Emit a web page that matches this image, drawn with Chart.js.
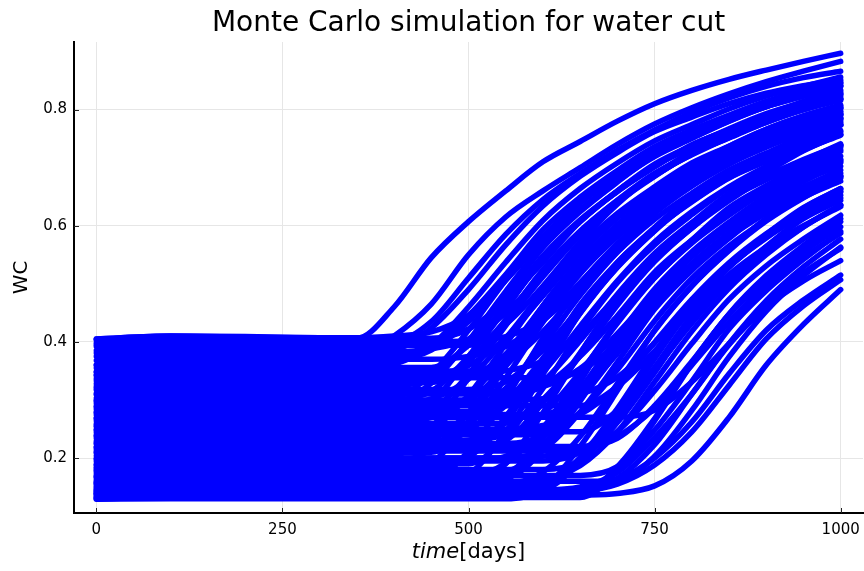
<!DOCTYPE html>
<html>
<head>
<meta charset="utf-8">
<script src="https://cdn.jsdelivr.net/npm/chart.js@4.4.1/dist/chart.umd.min.js"></script>
<style>
  html, body { margin: 0; padding: 0; background: #ffffff; }
  canvas { display: block; }
</style>
</head>
<body>
<canvas id="wc" width="864" height="571"></canvas>
<script>
// Sampling times (days) shared by every realisation
const days = [0, 100, 200, 300, 350, 400, 450, 500, 550, 600, 650, 700, 750, 800, 850, 900, 950, 1000];
const dayTicks = [0, 250, 500, 750, 1000];
const wcTicks = [0.2, 0.4, 0.6, 0.8];

// Water-cut realisations of the Monte Carlo run
const run01 = [0.405,0.41,0.408,0.406,0.406,0.46,0.545,0.607,0.66,0.71,0.745,0.78,0.81,0.833,0.852,0.868,0.883,0.897];
const run02 = [0.36,0.365,0.365,0.366,0.375,0.41,0.465,0.55,0.615,0.66,0.70,0.74,0.775,0.803,0.827,0.848,0.866,0.883];
const run03 = [0.395,0.40,0.399,0.398,0.398,0.40,0.435,0.51,0.585,0.645,0.69,0.73,0.765,0.795,0.82,0.84,0.855,0.866];
const run04 = [0.385,0.388,0.388,0.388,0.388,0.388,0.424,0.49,0.567,0.634,0.685,0.726,0.762,0.787,0.81,0.828,0.841,0.852];
const run05 = [0.375,0.378,0.377,0.377,0.377,0.377,0.391,0.445,0.516,0.593,0.649,0.695,0.736,0.765,0.79,0.813,0.831,0.846];
const run06 = [0.405,0.41,0.409,0.407,0.406,0.406,0.406,0.422,0.471,0.537,0.607,0.659,0.701,0.739,0.765,0.788,0.81,0.826];
const run07 = [0.355,0.357,0.357,0.356,0.356,0.356,0.356,0.394,0.462,0.54,0.608,0.66,0.702,0.739,0.765,0.791,0.812,0.828];
const run08 = [0.342,0.343,0.343,0.343,0.343,0.343,0.343,0.343,0.379,0.446,0.524,0.591,0.643,0.684,0.72,0.746,0.772,0.793];
const run09 = [0.328,0.33,0.33,0.33,0.33,0.33,0.33,0.368,0.438,0.519,0.589,0.643,0.686,0.724,0.751,0.778,0.8,0.816];
const run10 = [0.317,0.318,0.318,0.318,0.318,0.318,0.318,0.318,0.331,0.386,0.459,0.537,0.595,0.642,0.683,0.712,0.738,0.762];
const run11 = [0.303,0.305,0.305,0.305,0.305,0.305,0.345,0.42,0.506,0.581,0.639,0.685,0.725,0.754,0.782,0.805,0.823,0.84];
const run12 = [0.294,0.295,0.295,0.295,0.295,0.295,0.295,0.295,0.295,0.332,0.402,0.482,0.552,0.605,0.648,0.686,0.712,0.739];
const run13 = [0.284,0.285,0.285,0.285,0.285,0.285,0.285,0.299,0.358,0.438,0.522,0.584,0.635,0.681,0.712,0.74,0.765,0.785];
const run14 = [0.274,0.275,0.275,0.275,0.275,0.275,0.275,0.275,0.275,0.275,0.312,0.38,0.459,0.527,0.58,0.622,0.658,0.685];
const run15 = [0.264,0.265,0.265,0.265,0.265,0.265,0.28,0.344,0.428,0.519,0.586,0.64,0.689,0.722,0.752,0.779,0.8,0.819];
const run16 = [0.254,0.255,0.255,0.255,0.255,0.255,0.255,0.255,0.296,0.372,0.46,0.536,0.594,0.641,0.682,0.711,0.741,0.764];
const run17 = [0.244,0.245,0.245,0.245,0.245,0.245,0.245,0.245,0.245,0.245,0.245,0.282,0.352,0.432,0.502,0.555,0.598,0.636];
const run18 = [0.234,0.235,0.235,0.235,0.235,0.235,0.235,0.279,0.36,0.454,0.535,0.598,0.648,0.691,0.723,0.754,0.779,0.798];
const run19 = [0.224,0.225,0.225,0.225,0.225,0.225,0.225,0.225,0.225,0.24,0.301,0.383,0.471,0.535,0.588,0.635,0.667,0.696];
const run20 = [0.214,0.215,0.215,0.215,0.215,0.215,0.215,0.215,0.23,0.295,0.381,0.473,0.541,0.596,0.646,0.679,0.71,0.738];
const run21 = [0.204,0.205,0.205,0.205,0.205,0.205,0.252,0.338,0.438,0.524,0.591,0.644,0.69,0.724,0.757,0.784,0.804,0.823];
const run22 = [0.194,0.195,0.195,0.195,0.195,0.195,0.195,0.195,0.195,0.195,0.21,0.272,0.356,0.445,0.51,0.564,0.612,0.644];
const run23 = [0.184,0.185,0.185,0.185,0.185,0.185,0.185,0.202,0.271,0.365,0.464,0.537,0.597,0.651,0.687,0.72,0.75,0.774];
const run24 = [0.177,0.178,0.178,0.178,0.178,0.178,0.178,0.178,0.178,0.223,0.306,0.403,0.486,0.55,0.602,0.647,0.679,0.711];
const run25 = [0.169,0.17,0.17,0.17,0.17,0.17,0.17,0.17,0.17,0.17,0.17,0.185,0.248,0.332,0.422,0.488,0.542,0.59];
const run26 = [0.162,0.163,0.163,0.163,0.163,0.163,0.163,0.212,0.302,0.407,0.498,0.567,0.623,0.672,0.707,0.742,0.769,0.79];
const run27 = [0.155,0.156,0.156,0.156,0.156,0.156,0.156,0.156,0.156,0.156,0.201,0.285,0.381,0.465,0.53,0.581,0.626,0.658];
const run28 = [0.149,0.15,0.15,0.15,0.15,0.15,0.15,0.15,0.167,0.238,0.334,0.436,0.51,0.572,0.626,0.663,0.697,0.728];
const run29 = [0.144,0.145,0.145,0.145,0.145,0.145,0.145,0.145,0.145,0.145,0.15,0.175,0.235,0.31,0.395,0.46,0.505,0.54];
const run30 = [0.139,0.14,0.14,0.14,0.14,0.14,0.14,0.14,0.14,0.14,0.14,0.185,0.268,0.364,0.447,0.511,0.562,0.607];
const run31 = [0.137,0.138,0.138,0.138,0.138,0.138,0.138,0.138,0.138,0.139,0.142,0.155,0.188,0.245,0.325,0.405,0.462,0.507];
const run32 = [0.14,0.141,0.141,0.141,0.141,0.141,0.141,0.141,0.141,0.142,0.146,0.162,0.2,0.262,0.345,0.42,0.472,0.515];
const run33 = [0.133,0.135,0.135,0.135,0.135,0.135,0.135,0.135,0.135,0.135,0.136,0.139,0.152,0.195,0.27,0.36,0.43,0.49];
const run34 = [0.309,0.31,0.31,0.31,0.31,0.31,0.31,0.31,0.31,0.323,0.375,0.445,0.52,0.575,0.62,0.66,0.688,0.713];
const run35 = [0.299,0.3,0.3,0.3,0.3,0.3,0.315,0.375,0.457,0.544,0.607,0.66,0.706,0.738,0.767,0.793,0.813,0.831];
const run36 = [0.289,0.29,0.29,0.29,0.29,0.29,0.29,0.29,0.29,0.29,0.29,0.323,0.384,0.455,0.516,0.563,0.6,0.633];
const run37 = [0.279,0.28,0.28,0.28,0.28,0.28,0.28,0.28,0.32,0.394,0.48,0.554,0.611,0.656,0.696,0.725,0.753,0.776];
const run38 = [0.269,0.27,0.27,0.27,0.27,0.27,0.27,0.27,0.27,0.27,0.27,0.27,0.282,0.331,0.397,0.467,0.519,0.561];
const run39 = [0.259,0.26,0.26,0.26,0.26,0.26,0.26,0.26,0.26,0.301,0.376,0.463,0.538,0.596,0.643,0.683,0.712,0.741];
const run40 = [0.249,0.25,0.25,0.25,0.25,0.25,0.293,0.374,0.467,0.548,0.61,0.659,0.703,0.734,0.765,0.789,0.808,0.827];
const run41 = [0.239,0.24,0.24,0.24,0.24,0.24,0.24,0.24,0.24,0.24,0.279,0.352,0.436,0.509,0.565,0.61,0.649,0.677];
const run42 = [0.229,0.23,0.23,0.23,0.23,0.23,0.23,0.246,0.313,0.403,0.499,0.569,0.627,0.678,0.713,0.745,0.774,0.796];
const run43 = [0.219,0.22,0.22,0.22,0.22,0.22,0.22,0.22,0.22,0.22,0.22,0.234,0.29,0.366,0.447,0.506,0.555,0.598];
const run44 = [0.209,0.21,0.21,0.21,0.21,0.21,0.21,0.255,0.338,0.434,0.517,0.581,0.632,0.677,0.709,0.741,0.767,0.786];
const run45 = [0.199,0.2,0.2,0.2,0.2,0.2,0.2,0.2,0.2,0.215,0.279,0.365,0.456,0.523,0.578,0.627,0.661,0.691];
const run46 = [0.189,0.19,0.19,0.19,0.19,0.19,0.19,0.19,0.236,0.32,0.418,0.502,0.567,0.619,0.665,0.697,0.73,0.756];
const run47 = [0.179,0.18,0.18,0.18,0.18,0.18,0.18,0.18,0.18,0.18,0.196,0.261,0.347,0.44,0.509,0.564,0.614,0.648];
const run48 = [0.173,0.174,0.174,0.174,0.174,0.174,0.191,0.263,0.359,0.462,0.538,0.599,0.654,0.692,0.726,0.757,0.781,0.802];
const run49 = [0.166,0.167,0.167,0.167,0.167,0.167,0.167,0.167,0.167,0.213,0.298,0.396,0.48,0.546,0.598,0.644,0.676,0.709];
const run50 = [0.159,0.16,0.16,0.16,0.16,0.16,0.16,0.16,0.16,0.16,0.16,0.16,0.203,0.282,0.374,0.453,0.514,0.563];
const run51 = [0.152,0.153,0.153,0.153,0.153,0.153,0.153,0.171,0.245,0.344,0.45,0.528,0.591,0.648,0.687,0.722,0.754,0.779];
const run52 = [0.147,0.148,0.148,0.148,0.148,0.148,0.148,0.148,0.148,0.148,0.194,0.28,0.38,0.466,0.532,0.585,0.631,0.664];
const run53 = [0.142,0.143,0.143,0.143,0.143,0.143,0.143,0.143,0.16,0.234,0.331,0.436,0.512,0.575,0.631,0.669,0.704,0.735];
const run54 = [0.131,0.132,0.132,0.132,0.132,0.132,0.132,0.132,0.132,0.132,0.132,0.178,0.264,0.362,0.448,0.514,0.566,0.612];
const run55 = [0.129,0.13,0.13,0.13,0.13,0.13,0.13,0.13,0.13,0.147,0.22,0.316,0.42,0.496,0.558,0.613,0.651,0.685];
const run56 = [0.392,0.395,0.395,0.394,0.394,0.394,0.394,0.394,0.43,0.496,0.572,0.637,0.688,0.728,0.764,0.789,0.814,0.834];
const run57 = [0.348,0.35,0.35,0.35,0.35,0.35,0.35,0.35,0.363,0.418,0.49,0.568,0.626,0.672,0.714,0.743,0.769,0.792];
const run58 = [0.323,0.325,0.325,0.325,0.325,0.325,0.339,0.398,0.478,0.562,0.624,0.675,0.721,0.752,0.78,0.805,0.825,0.842];
const run59 = [0.337,0.338,0.338,0.338,0.338,0.338,0.338,0.338,0.338,0.338,0.35,0.398,0.463,0.532,0.583,0.624,0.661,0.687];
const run60 = [0.398,0.40,0.40,0.40,0.40,0.40,0.40,0.402,0.409,0.438,0.494,0.56,0.621,0.668,0.706,0.738,0.762,0.785];
const run61 = [0.381,0.383,0.383,0.383,0.383,0.383,0.388,0.405,0.45,0.517,0.584,0.641,0.686,0.723,0.753,0.778,0.8,0.818];
const run62 = [0.368,0.37,0.37,0.37,0.37,0.37,0.37,0.375,0.392,0.436,0.502,0.568,0.625,0.669,0.706,0.735,0.76,0.782];
const run63 = [0.36,0.362,0.362,0.362,0.362,0.367,0.386,0.435,0.507,0.58,0.642,0.69,0.731,0.763,0.79,0.814,0.833,0.849];
const run64 = [0.333,0.335,0.335,0.335,0.335,0.335,0.34,0.359,0.407,0.479,0.552,0.613,0.661,0.701,0.734,0.76,0.784,0.803];
const run65 = [0.311,0.313,0.313,0.313,0.313,0.313,0.313,0.313,0.316,0.323,0.354,0.414,0.485,0.551,0.602,0.643,0.678,0.703];
const run66 = [0.288,0.29,0.29,0.29,0.29,0.293,0.302,0.336,0.406,0.487,0.563,0.621,0.667,0.708,0.737,0.766,0.789,0.806];
const run67 = [0.268,0.27,0.27,0.27,0.27,0.27,0.27,0.276,0.296,0.348,0.427,0.505,0.572,0.624,0.667,0.702,0.731,0.757];
const run68 = [0.248,0.25,0.25,0.25,0.25,0.25,0.25,0.25,0.25,0.256,0.275,0.324,0.399,0.473,0.536,0.586,0.627,0.66];
const run69 = [0.238,0.24,0.24,0.24,0.24,0.24,0.243,0.252,0.29,0.364,0.451,0.531,0.593,0.643,0.686,0.717,0.748,0.773];
const run70 = [0.218,0.22,0.22,0.22,0.22,0.227,0.249,0.308,0.396,0.483,0.558,0.617,0.665,0.704,0.737,0.766,0.789,0.808];
const run71 = [0.198,0.2,0.2,0.2,0.2,0.2,0.2,0.2,0.2,0.203,0.212,0.246,0.316,0.397,0.473,0.531,0.577,0.618];
const run72 = [0.188,0.19,0.19,0.19,0.19,0.19,0.19,0.193,0.203,0.241,0.318,0.408,0.491,0.555,0.606,0.651,0.683,0.715];
const run73 = [0.168,0.17,0.17,0.17,0.17,0.17,0.177,0.201,0.263,0.356,0.449,0.529,0.591,0.643,0.684,0.719,0.75,0.774];
const run74 = [0.156,0.158,0.158,0.158,0.158,0.158,0.158,0.158,0.158,0.164,0.187,0.245,0.331,0.418,0.492,0.55,0.598,0.636];
const run75 = [0.144,0.146,0.146,0.146,0.146,0.146,0.146,0.146,0.153,0.176,0.237,0.328,0.419,0.496,0.557,0.608,0.648,0.682];
const run76 = [0.134,0.136,0.136,0.136,0.136,0.136,0.136,0.136,0.136,0.136,0.142,0.165,0.223,0.31,0.397,0.471,0.529,0.577];
const run77 = [0.13,0.132,0.132,0.132,0.132,0.132,0.136,0.147,0.19,0.278,0.38,0.474,0.547,0.605,0.656,0.692,0.729,0.758];
const run78 = [0.343,0.345,0.345,0.345,0.345,0.345,0.345,0.345,0.35,0.367,0.412,0.479,0.545,0.602,0.647,0.684,0.714,0.739];
const run79 = [0.278,0.28,0.28,0.28,0.283,0.292,0.329,0.402,0.487,0.567,0.628,0.677,0.719,0.75,0.78,0.805,0.823,0.841];
const run80 = [0.32,0.322,0.322,0.322,0.322,0.325,0.333,0.367,0.434,0.512,0.584,0.64,0.685,0.724,0.752,0.78,0.802,0.819];
const run81 = [0.21,0.212,0.212,0.212,0.212,0.212,0.212,0.212,0.212,0.212,0.217,0.237,0.286,0.36,0.434,0.497,0.546,0.587];
const run82 = [0.182,0.184,0.184,0.184,0.184,0.191,0.215,0.277,0.369,0.462,0.541,0.602,0.654,0.695,0.729,0.76,0.784,0.804];
const run83 = [0.158,0.16,0.16,0.16,0.16,0.16,0.16,0.167,0.191,0.252,0.344,0.435,0.514,0.575,0.626,0.667,0.701,0.731];
const run84 = [0.138,0.14,0.14,0.14,0.14,0.14,0.14,0.14,0.143,0.154,0.194,0.276,0.371,0.46,0.528,0.582,0.63,0.664];
const run85 = [0.298,0.3,0.3,0.3,0.3,0.3,0.3,0.3,0.3,0.302,0.31,0.339,0.398,0.467,0.53,0.579,0.619,0.653];
const run86 = [0.256,0.258,0.258,0.258,0.258,0.261,0.27,0.306,0.378,0.462,0.54,0.6,0.648,0.69,0.72,0.75,0.774,0.792];
const run87 = [0.226,0.228,0.228,0.228,0.228,0.228,0.228,0.231,0.24,0.276,0.348,0.432,0.51,0.57,0.618,0.66,0.69,0.72];
const run88 = [0.403,0.408,0.408,0.407,0.407,0.41,0.417,0.446,0.506,0.575,0.639,0.688,0.727,0.762,0.787,0.811,0.831,0.846];
const run89 = [0.348,0.35,0.35,0.35,0.353,0.361,0.394,0.46,0.537,0.609,0.664,0.708,0.746,0.774,0.801,0.823,0.84,0.856];

const runs = [run01, run02, run03, run04, run05, run06, run07, run08, run09, run10,
              run11, run12, run13, run14, run15, run16, run17, run18, run19, run20,
              run21, run22, run23, run24, run25, run26, run27, run28, run29, run30,
              run31, run32, run33, run34, run35, run36, run37, run38, run39, run40,
              run41, run42, run43, run44, run45, run46, run47, run48, run49, run50,
              run51, run52, run53, run54, run55, run56, run57, run58, run59, run60,
              run61, run62, run63, run64, run65, run66, run67, run68, run69, run70,
              run71, run72, run73, run74, run75, run76, run77, run78, run79, run80,
              run81, run82, run83, run84, run85, run86, run87, run88, run89];

const FONT = "'DejaVu Sans', sans-serif";
const GRID = '#e6e6e6';
const TITLE = 'Monte Carlo simulation for water cut';

// Title centred over the plot area, inward tick marks and the mixed-style x label
const axisDecor = {
  id: 'axisDecor',
  afterDatasetsDraw(chart) {
    const { ctx, chartArea, scales } = chart;
    ctx.save();
    ctx.strokeStyle = '#222222';
    ctx.lineWidth = 1;
    ctx.beginPath();
    dayTicks.forEach(v => {
      const px = Math.round(scales.x.getPixelForValue(v)) + 0.5;
      ctx.moveTo(px, chartArea.bottom);
      ctx.lineTo(px, chartArea.bottom - 5);
    });
    wcTicks.forEach(v => {
      const py = Math.round(scales.y.getPixelForValue(v)) + 0.5;
      ctx.moveTo(chartArea.left, py);
      ctx.lineTo(chartArea.left + 5, py);
    });
    ctx.stroke();
    ctx.restore();
  },
  afterDraw(chart) {
    const { ctx, chartArea } = chart;
    const cx = (chartArea.left + chartArea.right) / 2;
    ctx.save();
    ctx.fillStyle = '#000000';

    ctx.textAlign = 'center';
    ctx.textBaseline = 'alphabetic';
    ctx.font = '28px ' + FONT;
    ctx.fillText(TITLE, cx, 31);

    const italic = 'italic 21px ' + FONT;
    const upright = '21px ' + FONT;
    ctx.textBaseline = 'middle';
    ctx.textAlign = 'left';
    ctx.font = italic;
    const w1 = ctx.measureText('time').width;
    ctx.font = upright;
    const w2 = ctx.measureText('[days]').width;
    const x = cx - (w1 + w2) / 2;
    const y = 553;
    ctx.font = italic;
    ctx.fillText('time', x, y);
    ctx.font = upright;
    ctx.fillText('[days]', x + w1, y);
    ctx.restore();
  }
};

new Chart(document.getElementById('wc'), {
  type: 'line',
  data: {
    datasets: runs.map(r => ({
      data: r.map((v, i) => ({ x: days[i], y: v })),
      borderColor: '#0000ff',
      borderWidth: 5.5,
      pointRadius: 0,
      fill: false,
      cubicInterpolationMode: 'monotone',
      borderCapStyle: 'round',
      borderJoinStyle: 'round'
    }))
  },
  options: {
    responsive: false,
    animation: false,
    devicePixelRatio: 1,
    layout: { padding: { left: 0, right: 1, top: 42, bottom: 0 } },
    plugins: {
      legend: { display: false },
      tooltip: { enabled: false },
      title: { display: false }
    },
    scales: {
      x: {
        type: 'linear',
        min: -30,
        max: 1030,
        afterBuildTicks: s => { s.ticks = dayTicks.map(v => ({ value: v })); },
        afterFit: s => { s.height = 58; s.paddingLeft = 0; s.paddingRight = 0; },
        grid: { color: GRID, lineWidth: 1, drawTicks: false },
        border: { display: true, color: '#000000', width: 2 },
        ticks: {
          color: '#000000',
          font: { family: FONT, size: 15 },
          padding: 8,
          maxRotation: 0,
          callback: v => String(v)
        }
      },
      y: {
        type: 'linear',
        min: 0.1053,
        max: 0.9163,
        afterBuildTicks: s => { s.ticks = wcTicks.map(v => ({ value: v })); },
        afterFit: s => { s.width = 74; s.paddingTop = 0; s.paddingBottom = 0; },
        grid: { color: GRID, lineWidth: 1, drawTicks: false },
        border: { display: true, color: '#000000', width: 2 },
        ticks: {
          color: '#000000',
          font: { family: FONT, size: 15 },
          padding: 7,
          callback: v => v.toFixed(1)
        },
        title: {
          display: true,
          text: 'WC',
          color: '#000000',
          font: { family: FONT, size: 20 },
          padding: { top: 10, bottom: 0 }
        }
      }
    }
  },
  plugins: [axisDecor]
});
</script>
</body>
</html>
